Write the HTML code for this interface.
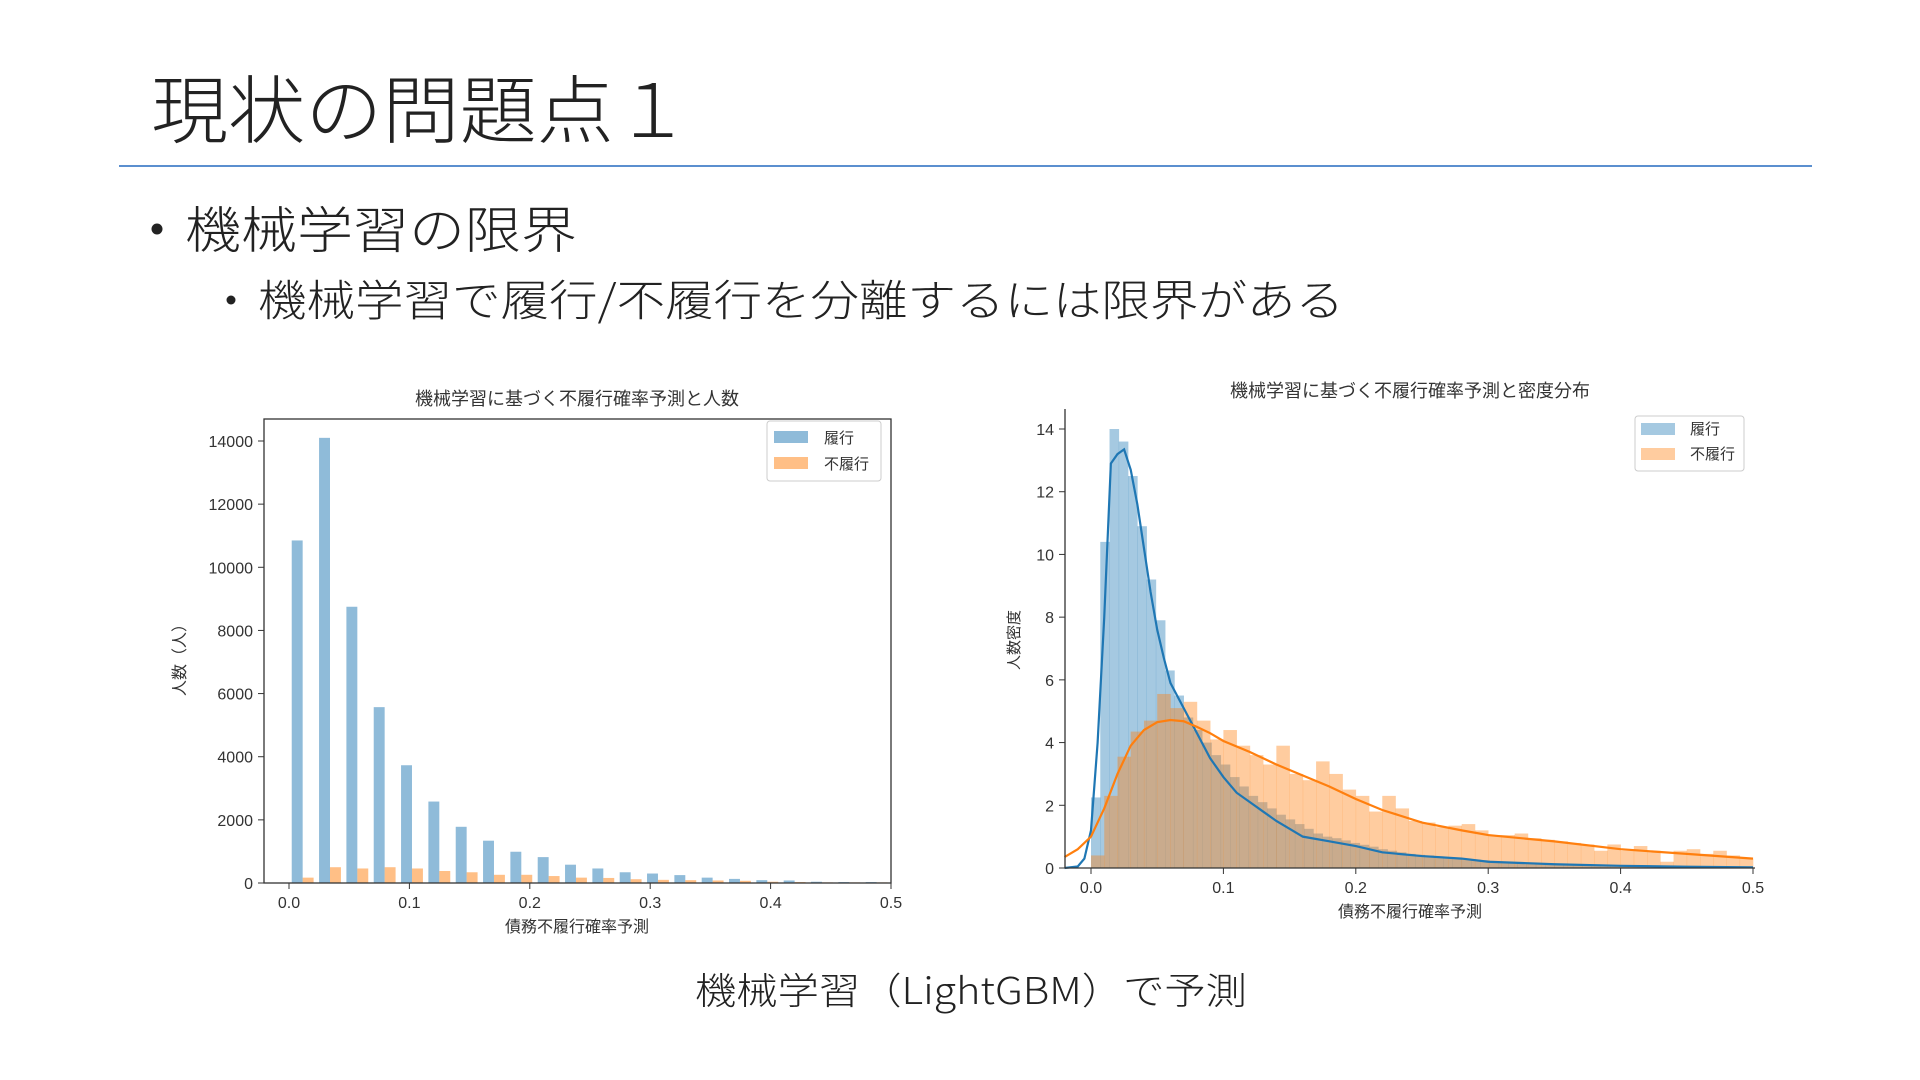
<!DOCTYPE html>
<html><head><meta charset="utf-8"><style>
html,body{margin:0;padding:0;background:#fff;}
svg{display:block;font-family:"Liberation Sans","Noto Sans CJK JP",sans-serif;}
.jp{font-family:"Noto Sans CJK JP","Liberation Sans",sans-serif;}
</style></head><body>
<svg id="s" width="1920" height="1080" viewBox="0 0 1920 1080">
<text class="jp" x="151" y="137" font-size="74" font-weight="300" fill="#222" textLength="540" lengthAdjust="spacingAndGlyphs">現状の問題点１</text>
<line x1="119" y1="166" x2="1812" y2="166" stroke="#5b8fcf" stroke-width="2"/>
<circle cx="157" cy="229" r="5.5" fill="#222"/>
<text class="jp" x="185" y="248" font-size="50" font-weight="300" fill="#222" textLength="392" lengthAdjust="spacingAndGlyphs">機械学習の限界</text>
<circle cx="231" cy="300" r="4.5" fill="#222"/>
<text class="jp" x="258" y="316" font-size="43" font-weight="300" fill="#222" textLength="1086" lengthAdjust="spacingAndGlyphs">機械学習で履行/不履行を分離するには限界がある</text>
<text class="jp" x="695" y="1004" font-size="37" font-weight="300" fill="#222" textLength="552" lengthAdjust="spacingAndGlyphs">機械学習（LightGBM）で予測</text>
<g id="left"></g>
<g id="right"></g>
</svg>
<script>
// Left chart data
const leftBinWidth = 0.0227;
const leftPaid = [10850,14100,8750,5570,3730,2580,1780,1340,990,820,580,460,340,300,250,170,130,90,80,40,30,30];
const leftDefault = [170,500,460,500,460,380,340,260,260,220,170,160,120,100,90,80,70,40,30,20,20,20];
const leftYTicks = [0,2000,4000,6000,8000,10000,12000,14000];
const leftXTicks = [0.0,0.1,0.2,0.3,0.4,0.5];
// Right chart data
const rightPaidBin = 0.007;
const rightPaidHist = [2.25,10.4,14.0,13.6,12.5,10.9,9.2,7.9,6.3,5.5,4.8,4.4,4.0,3.6,3.3,2.9,2.6,2.3,2.1,1.9,1.7,1.55,1.4,1.25,1.1,1.0,0.95,0.88,0.8,0.74,0.68,0.6,0.55,0.5,0.45,0.42,0.4,0.37,0.34,0.32,0.3,0.27,0.25,0.22,0.2,0.18,0.17,0.15,0.14,0.13,0.12,0.11,0.1,0.09,0.08,0.08,0.07,0.07,0.06,0.06,0.05,0.05,0.04,0.04,0.04,0.03,0.03,0.03,0.03,0.02,0.02];
const rightDefBin = 0.01;
const rightDefHist = [0.4,2.3,3.55,4.35,4.7,5.55,5.1,5.3,4.7,4.1,4.4,3.9,3.6,3.3,3.9,3.0,2.8,3.4,3.0,2.5,2.3,1.8,2.3,1.9,1.5,1.45,1.3,1.35,1.4,1.2,1.05,1.05,1.1,0.95,0.9,0.85,0.8,0.75,0.55,0.75,0.55,0.7,0.55,0.2,0.55,0.6,0.45,0.55,0.4,0.3];
const paidKdeX = [-0.02,-0.01,-0.005,0,0.005,0.01,0.015,0.02,0.025,0.03,0.035,0.04,0.045,0.05,0.055,0.06,0.07,0.08,0.09,0.1,0.11,0.12,0.13,0.14,0.15,0.16,0.18,0.2,0.22,0.25,0.28,0.3,0.35,0.4,0.45,0.5];
const paidKdeY = [0,0.05,0.3,1.2,4,8,12.9,13.2,13.35,12.7,11.6,10.2,8.8,7.6,6.7,5.9,5.1,4.3,3.5,2.9,2.4,2.1,1.8,1.5,1.25,1.0,0.85,0.7,0.5,0.38,0.3,0.2,0.12,0.07,0.04,0.02];
const defKdeX = [-0.02,-0.01,0,0.01,0.02,0.03,0.04,0.05,0.06,0.07,0.08,0.09,0.1,0.12,0.14,0.16,0.18,0.2,0.22,0.25,0.28,0.3,0.35,0.4,0.45,0.5];
const defKdeY = [0.35,0.6,1.0,1.9,3.0,3.9,4.4,4.65,4.72,4.68,4.5,4.3,4.05,3.7,3.3,2.95,2.6,2.2,1.85,1.45,1.2,1.05,0.85,0.6,0.45,0.3];
const rightYTicks = [0,2,4,6,8,10,12,14];
const rightXTicks = [0.0,0.1,0.2,0.3,0.4,0.5];

const NS="http://www.w3.org/2000/svg";
function mk(parent,tag,attrs,text){const e=document.createElementNS(NS,tag);for(const k in attrs)e.setAttribute(k,attrs[k]);if(text!==undefined)e.textContent=text;parent.appendChild(e);return e;}

// ---------- LEFT ----------
const L=document.getElementById('left');
const lx=v=>289+(v-0)*(891-289)/0.5;
const ly=v=>883-v*(883-441)/14000;
leftPaid.forEach((v,i)=>{
  const x0=lx(i*leftBinWidth+leftBinWidth*0.1), w=lx(leftBinWidth*0.4)-lx(0);
  const r=mk(L,'rect',{x:x0,y:ly(v),width:w,height:ly(0)-ly(v),fill:'#1f77b4','fill-opacity':0.5});
  
  
});
leftDefault.forEach((v,i)=>{
  const x0=lx(i*leftBinWidth+leftBinWidth*0.5), w=lx(leftBinWidth*0.4)-lx(0);
  const r=mk(L,'rect',{x:x0,y:ly(v),width:w,height:ly(0)-ly(v),fill:'#ff7f0e','fill-opacity':0.5});
  
  
});
const lframe=mk(L,'rect',{x:264,y:419,width:627,height:464,fill:'none',stroke:'#333','stroke-width':1.3});


leftYTicks.forEach(t=>{
  mk(L,'line',{x1:258,x2:264,y1:ly(t),y2:ly(t),stroke:'#333'});
  const tx=mk(L,'text',{x:253,y:ly(t)+6,'font-size':16,'text-anchor':'end',fill:'#333'},String(t));
  
  
});
leftXTicks.forEach(t=>{
  mk(L,'line',{x1:lx(t),x2:lx(t),y1:883,y2:889,stroke:'#333'});
  const tx=mk(L,'text',{x:lx(t),y:908,'font-size':16,'text-anchor':'middle',fill:'#333'},t.toFixed(1));
  
  
});
let e;
e=mk(L,'text',{x:577,y:405,'font-size':18,'text-anchor':'middle',fill:'#333',class:'jp'},'機械学習に基づく不履行確率予測と人数');


e=mk(L,'text',{x:577,y:932,'font-size':16,'text-anchor':'middle',fill:'#333',class:'jp'},'債務不履行確率予測');


e=mk(L,'text',{x:0,y:0,'font-size':16,'text-anchor':'middle',fill:'#333',class:'jp',transform:'translate(185,656) rotate(-90)'},'人数（人）');


e=mk(L,'rect',{x:767,y:421,width:114,height:60,fill:'#fff',stroke:'#ccc',rx:3});


mk(L,'rect',{x:774,y:431,width:34,height:12,fill:'#1f77b4','fill-opacity':0.5});
mk(L,'rect',{x:774,y:457,width:34,height:12,fill:'#ff7f0e','fill-opacity':0.5});
e=mk(L,'text',{x:824,y:443,'font-size':15,fill:'#333',class:'jp'},'履行');


e=mk(L,'text',{x:824,y:469,'font-size':15,fill:'#333',class:'jp'},'不履行');



// ---------- RIGHT ----------
const R=document.getElementById('right');
const rx=v=>1091+v*(1753-1091)/0.5;
const ry=v=>868-v*(868-429)/14;
rightPaidHist.forEach((v,i)=>{
  const r=mk(R,'rect',{x:rx(i*rightPaidBin),y:ry(v),width:rx(rightPaidBin)-rx(0)+0.3,height:ry(0)-ry(v),fill:'#1f77b4','fill-opacity':0.4});
  
  
});
rightDefHist.forEach((v,i)=>{
  const r=mk(R,'rect',{x:rx(i*rightDefBin),y:ry(v),width:rx(rightDefBin)-rx(0)+0.3,height:ry(0)-ry(v),fill:'#ff7f0e','fill-opacity':0.4});
  
  
});
e=mk(R,'polyline',{points:paidKdeX.map((x,i)=>rx(x)+','+ry(paidKdeY[i])).join(' '),fill:'none',stroke:'#1f77b4','stroke-width':2.2});


e=mk(R,'polyline',{points:defKdeX.map((x,i)=>rx(x)+','+ry(defKdeY[i])).join(' '),fill:'none',stroke:'#ff7f0e','stroke-width':2.2});


mk(R,'line',{x1:1065,x2:1065,y1:409,y2:868,stroke:'#333','stroke-width':1.3});
mk(R,'line',{x1:1065,x2:1755,y1:868,y2:868,stroke:'#333','stroke-width':1.3});
rightYTicks.forEach(t=>{
  mk(R,'line',{x1:1059,x2:1065,y1:ry(t),y2:ry(t),stroke:'#333'});
  const tx=mk(R,'text',{x:1054,y:ry(t)+6,'font-size':16,'text-anchor':'end',fill:'#333'},String(t));
  
  
});
rightXTicks.forEach(t=>{
  mk(R,'line',{x1:rx(t),x2:rx(t),y1:868,y2:874,stroke:'#333'});
  const tx=mk(R,'text',{x:rx(t),y:893,'font-size':16,'text-anchor':'middle',fill:'#333'},t.toFixed(1));
  
  
});
e=mk(R,'text',{x:1410,y:397,'font-size':18,'text-anchor':'middle',fill:'#333',class:'jp'},'機械学習に基づく不履行確率予測と密度分布');


e=mk(R,'text',{x:1410,y:917,'font-size':16,'text-anchor':'middle',fill:'#333',class:'jp'},'債務不履行確率予測');


e=mk(R,'text',{x:0,y:0,'font-size':15,'text-anchor':'middle',fill:'#333',class:'jp',transform:'translate(1019,640) rotate(-90)'},'人数密度');


e=mk(R,'rect',{x:1635,y:416,width:109,height:55,fill:'#fff',stroke:'#ccc',rx:3});


mk(R,'rect',{x:1641,y:423,width:34,height:12,fill:'#1f77b4','fill-opacity':0.4});
mk(R,'rect',{x:1641,y:448,width:34,height:12,fill:'#ff7f0e','fill-opacity':0.4});
e=mk(R,'text',{x:1690,y:434,'font-size':15,fill:'#333',class:'jp'},'履行');


e=mk(R,'text',{x:1690,y:459,'font-size':15,fill:'#333',class:'jp'},'不履行');


</script>
</body></html>
